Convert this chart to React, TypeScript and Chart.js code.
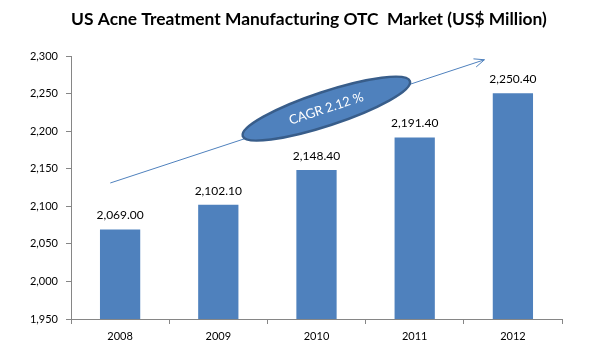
import React, { useEffect, useRef } from "react";
import { Chart, registerables } from "chart.js";

Chart.register(...registerables);

const TITLE = "US Acne Treatment Manufacturing OTC  Market (US$ Million)";
const categories = ["2008", "2009", "2010", "2011", "2012"];
const values = [2069.0, 2102.1, 2148.4, 2191.4, 2250.4];
const yMin = 1950;
const yMax = 2300;
const yStep = 50;
const cagrLabel = "CAGR 2.12 %";
// annotation arrow in data units (category index, value)
const arrowStart = [-0.1, 2131];
const arrowEnd = [3.71, 2295];
const ellipseCenter = [2.1, 2230];

const FONT = "Lato, 'Open Sans', sans-serif";
const BLUE = "#4F81BD";

const fmt = (v: number, d: number) =>
  v.toLocaleString("en-US", { minimumFractionDigits: d, maximumFractionDigits: d });

const extrasPlugin = {
  id: "extras",
  afterDatasetsDraw(chart: any) {
    const ctx = chart.ctx;
    const xs = chart.scales.x;
    const ys = chart.scales.y;
    // data labels
    const meta = chart.getDatasetMeta(0);
    ctx.save();
    ctx.font = `12px ${FONT}`;
    ctx.fillStyle = "#000";
    ctx.textAlign = "center";
    ctx.textBaseline = "middle";
    meta.data.forEach((bar: any, i: number) => {
      ctx.fillText(fmt(values[i], 2), bar.x, bar.y - 14);
    });
    // arrow
    const px = (p: number[]) => [xs.getPixelForValue(p[0]), ys.getPixelForValue(p[1])];
    const [x1, y1] = px(arrowStart);
    const [x2, y2] = px(arrowEnd);
    const ang = Math.atan2(y2 - y1, x2 - x1);
    ctx.strokeStyle = BLUE;
    ctx.lineWidth = 1;
    ctx.beginPath();
    ctx.moveTo(x1, y1);
    ctx.lineTo(x2, y2);
    ctx.stroke();
    const hl = 11;
    ctx.beginPath();
    ctx.moveTo(x2 - hl * Math.cos(ang - 0.4), y2 - hl * Math.sin(ang - 0.4));
    ctx.lineTo(x2, y2);
    ctx.lineTo(x2 - hl * Math.cos(ang + 0.4), y2 - hl * Math.sin(ang + 0.4));
    ctx.stroke();
    // ellipse
    const [cx, cy] = px(ellipseCenter);
    ctx.translate(cx, cy);
    ctx.rotate(ang);
    ctx.beginPath();
    ctx.ellipse(0, 0, 88, 17, 0, 0, Math.PI * 2);
    ctx.fillStyle = BLUE;
    ctx.fill();
    ctx.lineWidth = 2.5;
    ctx.strokeStyle = "#385D8A";
    ctx.stroke();
    ctx.fillStyle = "#fff";
    ctx.font = `13px ${FONT}`;
    ctx.fillText(cagrLabel, 0, 0);
    ctx.restore();
  },
  afterDraw(chart: any) {
    const ctx = chart.ctx;
    ctx.save();
    ctx.font = `bold 17.4px ${FONT}`;
    ctx.fillStyle = "#000";
    ctx.textAlign = "center";
    ctx.textBaseline = "middle";
    ctx.fillText(TITLE, 309, 19);
    ctx.restore();
  },
};

export default function App() {
  const ref = useRef<HTMLCanvasElement>(null);
  useEffect(() => {
    const chart = new Chart(ref.current as HTMLCanvasElement, {
      type: "bar",
      data: {
        labels: categories,
        datasets: [
          {
            data: values,
            backgroundColor: BLUE,
            borderWidth: 0,
            barPercentage: 0.41,
            categoryPercentage: 1,
          },
        ],
      },
      plugins: [extrasPlugin],
      options: {
        responsive: false,
        animation: false,
        layout: { padding: { top: 56, left: 0, right: 41, bottom: 0 } },
        plugins: { legend: { display: false }, title: { display: false }, tooltip: { enabled: false } },
        scales: {
          x: {
            grid: { display: true, drawOnChartArea: false, offset: true, color: "#868686", tickLength: 5 },
            border: { color: "#868686" },
            ticks: { color: "#000", font: { family: FONT, size: 11 }, padding: 6 },
            afterFit: (s: any) => {
              s.height = 34;
            },
          },
          y: {
            min: yMin,
            max: yMax,
            grid: { display: true, drawOnChartArea: false, color: "#868686", tickLength: 5 },
            border: { color: "#868686" },
            ticks: {
              stepSize: yStep,
              color: "#000",
              font: { family: FONT, size: 11 },
              padding: 8,
              callback: (v: any) => fmt(Number(v), 0),
            },
            afterFit: (s: any) => {
              s.width = 71;
            },
          },
        },
      },
    });
    return () => chart.destroy();
  }, []);
  return (
    <div style={{ position: "fixed", left: 0, top: 0, width: 603, height: 353, background: "#fff" }}>
      <canvas ref={ref} width={603} height={353} style={{ width: 603, height: 353 }} />
    </div>
  );
}
